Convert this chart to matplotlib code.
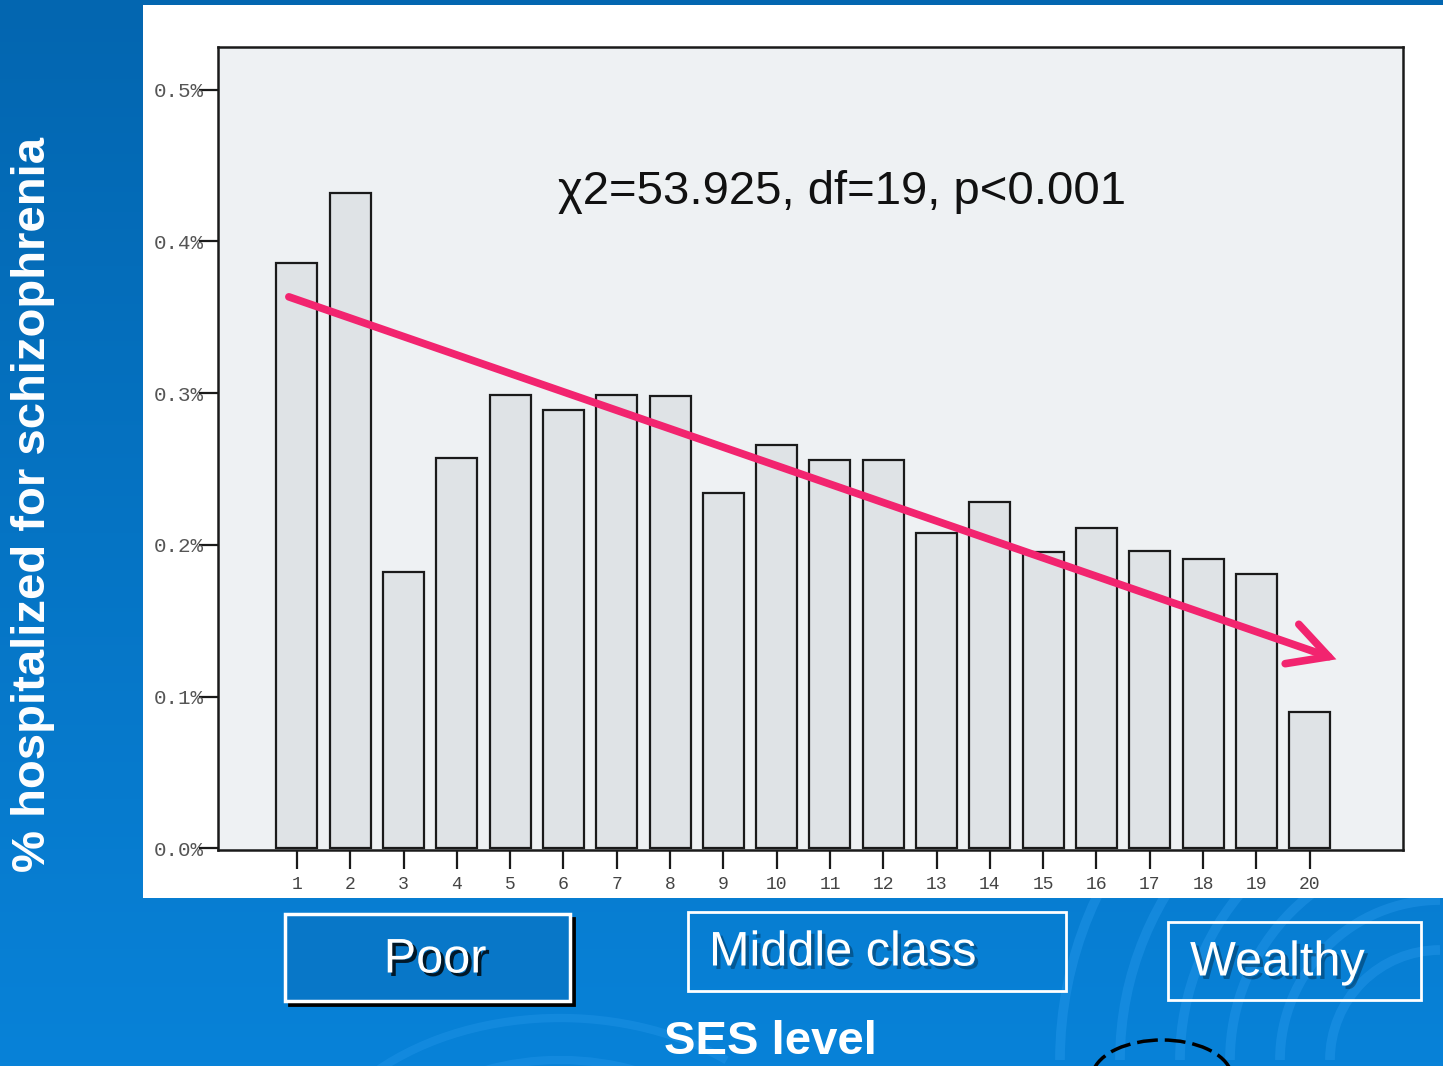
import numpy as np
import matplotlib.pyplot as plt
import matplotlib.patheffects as pe
from matplotlib.patches import Rectangle, FancyArrowPatch, Arc

# SES level (1 = poorest, 20 = wealthiest) and % hospitalized for schizophrenia
ses_levels = list(range(1, 21))
pct_hosp = [0.386, 0.432, 0.182, 0.257, 0.299, 0.289, 0.299, 0.298, 0.234, 0.266,
            0.256, 0.256, 0.208, 0.228, 0.195, 0.211, 0.196, 0.191, 0.181, 0.090]
y_ticks = [0.0, 0.1, 0.2, 0.3, 0.4, 0.5]
y_tick_labels = ["0.0%", "0.1%", "0.2%", "0.3%", "0.4%", "0.5%"]
groups = ["Poor", "Middle class", "Wealthy"]
stat_text = "\u03c72=53.925, df=19, p<0.001"
# trend arrow (start/end in data units)
trend_start = (0.8, 0.364)
trend_end = (20.55, 0.124)

W, H = 1443, 1066
fig = plt.figure(figsize=(W / 100, H / 100), dpi=100)

# slide background: blue gradient
bg = fig.add_axes([0, 0, 1, 1], zorder=0)
grad = np.linspace(0, 1, 256).reshape(-1, 1)
top = np.array([0x03, 0x66, 0xB0]) / 255
bot = np.array([0x08, 0x82, 0xD8]) / 255
img = top + (bot - top) * grad[:, :, None]
bg.imshow(img, aspect="auto", extent=[0, W, H, 0])
# faint swirl decoration (y axis is inverted here)
for r in [110, 160, 210, 260, 320, 380]:
    bg.add_patch(Arc((1440, 1060), 2 * r, 2 * r, theta1=180, theta2=270,
                     color="#2e9ef0", lw=7, alpha=0.35))
for r in [200, 260]:
    bg.add_patch(Arc((560, 1200), 2 * r, 1.4 * r, theta1=210, theta2=320,
                     color="#2e9ef0", lw=6, alpha=0.3))
bg.add_patch(Arc((1162, 1078), 140, 76, theta1=185, theta2=355, color="black", lw=2.5,
                 linestyle=(0, (6, 2))))
# white panel holding the scanned chart
bg.add_patch(Rectangle((143, 5), W - 143, 893, facecolor="white", edgecolor="none"))
bg.set_xlim(0, W)
bg.set_ylim(H, 0)
bg.axis("off")

# the chart itself
ax = fig.add_axes([218 / W, 1 - 850 / H, (1403 - 218) / W, (850 - 47) / H], zorder=2)
ax.set_facecolor("#eef1f3")
ax.bar(ses_levels, pct_hosp, width=0.77, color="#dfe3e6", edgecolor="#1a1a1a", linewidth=1.6)
ax.set_xlim(-0.48, 21.75)
ax.set_ylim(-0.001, 0.528)
for s in ax.spines.values():
    s.set_linewidth(1.8)
    s.set_color("#1a1a1a")
ax.set_xticks(ses_levels)
ax.set_xticklabels([str(v) for v in ses_levels], family="Liberation Mono", fontsize=13, color="#444444")
ax.set_yticks(y_ticks)
ax.set_yticklabels(y_tick_labels, family="Liberation Mono", fontsize=15, color="#555555")
ax.tick_params(axis="both", direction="out", length=14, width=1.6, color="#1a1a1a")
ax.tick_params(axis="x", pad=5)
ax.tick_params(axis="y", pad=-4)

ax.text(0.527, 0.82, stat_text, transform=ax.transAxes, ha="center", va="center",
        fontsize=34, family="Liberation Sans", color="#111111")

ax.add_patch(FancyArrowPatch(trend_start, trend_end, arrowstyle="->,head_length=1.4,head_width=0.75",
                             mutation_scale=20, color="#f2246f", lw=5.5, zorder=5, clip_on=False,
                             capstyle="round", joinstyle="miter"))

# y label on the blue strip
fig.text(33 / W, 1 - 505 / H, "% hospitalized for schizophrenia", rotation=90, ha="center",
         va="center", color="white", fontsize=34, fontweight="bold", family="Liberation Sans")

# SES group boxes
box_pos = [(285, 914, 570, 1001), (688, 912, 1066, 991), (1168, 922, 1421, 1000)]
text_x = [435, 709, 1190]
text_ha = ["center", "left", "left"]
text_y = [960, 953, 963]
shadow = [pe.withSimplePatchShadow(offset=(2, -2), shadow_rgbFace="black", alpha=0.9)]
for i, (label, (x0, y0, x1, y1)) in enumerate(zip(groups, box_pos)):
    if i == 0:
        bg.add_patch(Rectangle((x0 + 4, y0 + 4), x1 - x0, y1 - y0, facecolor="black",
                               edgecolor="black", lw=2, zorder=3))
        bg.add_patch(Rectangle((x0, y0), x1 - x0, y1 - y0, facecolor="#0877c8",
                               edgecolor="white", lw=2.5, zorder=4))
    else:
        bg.add_patch(Rectangle((x0, y0), x1 - x0, y1 - y0, facecolor="none",
                               edgecolor="white", lw=2, zorder=4))
    t = bg.text(text_x[i], text_y[i], label, ha=text_ha[i], va="center", fontsize=35,
                color="white", family="Liberation Sans", zorder=6)
    t.set_path_effects([pe.withSimplePatchShadow(offset=(2.5, -2.5), shadow_rgbFace="black",
                                                 alpha=0.8 if i == 0 else 0.3)])

bg.text(770, 1020, "SES level", ha="center", va="top", fontsize=34, fontweight="bold",
        color="white", family="Liberation Sans", zorder=5)

fig.savefig("out.png", dpi=100)
